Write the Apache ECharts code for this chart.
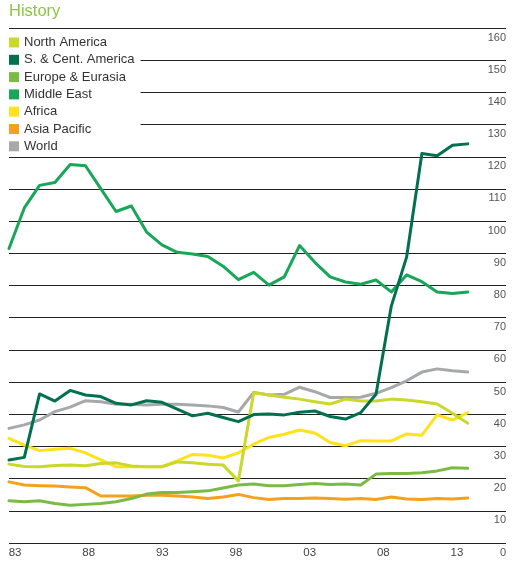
<!DOCTYPE html>
<html>
<head>
<meta charset="utf-8">
<script src="https://cdn.jsdelivr.net/npm/echarts@6/dist/echarts.min.js"></script>
<style>
html,body{margin:0;padding:0;background:#fff;}
#chart{width:519px;height:571px;}
</style>
</head>
<body>
<div id="chart"></div>
<script>
const years = [1983,1984,1985,1986,1987,1988,1989,1990,1991,1992,1993,1994,1995,1996,1997,1998,1999,2000,2001,2002,2003,2004,2005,2006,2007,2008,2009,2010,2011,2012,2013];
const tickYears = [1983,1988,1993,1998,2003,2008,2013];
const yTicks = [0,10,20,30,40,50,60,70,80,90,100,110,120,130,140,150,160];

const northAmerica = [24.5,23.8,23.7,24.1,24.2,24.0,24.7,24.9,23.9,23.7,23.7,25.2,24.9,24.5,24.2,19.3,46.7,46.0,45.3,44.7,43.9,43.2,44.7,44.1,44.1,44.7,44.4,43.9,43.2,40.3,37.2];
const scAmerica = [25.8,26.6,46.3,44.1,47.4,46.0,45.5,43.4,42.9,44.2,43.7,41.6,39.5,40.3,39.0,37.7,39.9,40.1,39.8,40.6,41.0,39.3,38.5,40.5,46.2,73.6,88.8,121.0,120.3,123.6,124.0];
const europeEurasia = [13.1,12.8,13.1,12.3,11.7,12.0,12.3,12.8,13.8,15.2,15.7,15.7,15.9,16.2,17.1,18.0,18.3,17.8,17.8,18.2,18.5,18.2,18.3,18.0,21.4,21.6,21.6,21.8,22.4,23.4,23.2];
const middleEast = [91.5,104.1,111.1,112.0,117.6,117.2,110.1,103.0,104.7,96.6,92.6,90.3,89.8,89.0,86.0,81.8,84.1,80.1,82.7,92.4,87.2,82.7,81.1,80.4,81.7,78.0,83.3,81.2,78.0,77.5,78.0];
const africa = [32.5,30.4,28.7,29.1,29.4,28.0,25.8,23.7,23.7,23.7,23.7,25.5,27.5,27.3,26.4,28.0,30.7,32.8,33.8,35.1,34.2,31.2,30.2,31.8,31.7,31.7,33.9,33.5,39.8,38.2,40.5];
const asiaPacific = [19.0,18.0,17.8,17.7,17.4,17.2,14.6,14.6,14.6,14.8,14.8,14.6,14.3,13.8,14.3,15.1,14.1,13.5,13.8,13.8,14.0,13.8,13.6,13.8,13.5,14.3,13.7,13.5,13.8,13.7,14.0];
const world = [35.6,36.7,38.2,40.8,42.2,44.2,43.9,43.1,43.1,42.9,43.1,43.1,42.9,42.6,42.1,40.7,46.8,46.0,46.2,48.4,47.0,45.2,45.2,45.3,46.5,48.3,50.4,53.1,54.1,53.5,53.1];

const seriesNames = ['North America','S. & Cent. America','Europe & Eurasia','Middle East','Africa','Asia Pacific','World'];
const seriesColors = ['#cad82c','#00704f','#7cbb43','#18a659','#fee21a','#f6a11c','#a7a8aa'];
const seriesValues = [northAmerica, scAmerica, europeEurasia, middleEast, africa, asiaPacific, world];
// drawing order (bottom to top)
const drawOrder = [6,5,2,4,0,3,1];

const FONT = 'Liberation Sans, Arial, Helvetica, sans-serif';

const chart = echarts.init(document.getElementById('chart'), null, {renderer: 'canvas'});

const series = drawOrder.map(i => ({
  name: seriesNames[i],
  type: 'line',
  xAxisIndex: 0,
  data: years.map((y, k) => [y, seriesValues[i][k]]),
  showSymbol: false,
  symbol: 'none',
  lineStyle: {color: seriesColors[i], width: 3, join: 'round', cap: 'round'},
  itemStyle: {color: seriesColors[i]},
  emphasis: {disabled: true},
  animation: false
}));

const labelFmt = v => String(Math.round(v) % 100).padStart(2, '0');

chart.setOption({
  animation: false,
  backgroundColor: '#fff',
  title: {
    text: 'History',
    left: 9,
    top: 3,
    padding: 0,
    textStyle: {color: '#8cc63e', fontSize: 16.5, fontWeight: 'normal', fontFamily: FONT}
  },
  legend: {
    data: seriesNames.map((n, i) => ({name: n, itemStyle: {color: seriesColors[i]}})),
    orient: 'vertical',
    left: 3,
    top: 32,
    padding: [4, 6, 1, 6],
    backgroundColor: '#fff',
    itemWidth: 10,
    itemHeight: 10,
    itemGap: 4.3,
    itemTextGap: 6,
    icon: 'rect',
    selectedMode: false,
    textStyle: {color: '#333', fontSize: 13, fontFamily: FONT, lineHeight: 13},
    z: 10
  },
  grid: {left: 9, right: 13, top: 28, bottom: 28, containLabel: false},
  xAxis: [
    {
      type: 'value',
      position: 'bottom',
      min: 1983,
      max: 2015.5,
      axisLine: {show: false},
      axisTick: {show: false},
      splitLine: {show: false},
      axisLabel: {show: false}
    },
    {
      // label-only axis: the printed year labels sit slightly tighter than the data spacing
      type: 'value',
      position: 'bottom',
      offset: 0,
      min: 1982.59,
      max: 2016.33,
      axisLine: {show: false},
      axisTick: {show: false},
      splitLine: {show: false},
      axisLabel: {
        customValues: tickYears,
        formatter: labelFmt,
        color: '#444',
        fontSize: 11.5,
        fontFamily: FONT,
        margin: 4
      }
    }
  ],
  yAxis: {
    type: 'value',
    position: 'right',
    min: yTicks[0],
    max: yTicks[yTicks.length - 1],
    interval: 10,
    axisLine: {show: false},
    axisTick: {show: false},
    splitLine: {show: true, lineStyle: {color: '#222', width: 1}},
    axisLabel: {
      inside: true,
      margin: 0,
      verticalAlign: 'top',
      padding: [4, 0, 0, 0],
      color: '#555',
      fontSize: 11,
      fontFamily: FONT
    }
  },
  series: series
});
</script>
</body>
</html>
